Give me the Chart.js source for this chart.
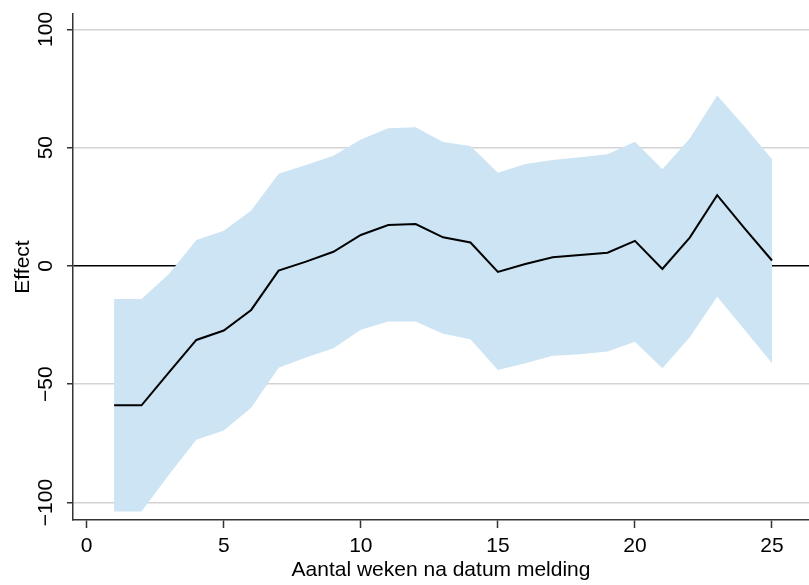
<!DOCTYPE html>
<html>
<head>
<meta charset="utf-8">
<script src="https://cdn.jsdelivr.net/npm/chart.js@4.4.0/dist/chart.umd.min.js"></script>
<style>
  html, body { margin: 0; padding: 0; background: #fff; }
  #wrap { width: 809px; height: 585px; }
</style>
</head>
<body>
<div id="wrap"><canvas id="chart"></canvas></div>
<script>
// weeks after report date
const weeks = [1, 2, 3, 4, 5, 6, 7, 8, 9, 10, 11, 12, 13, 14, 15, 16, 17, 18, 19, 20, 21, 22, 23, 24, 25];
const effect = [-58.9, -58.9, -45, -31.3, -27.3, -18.6, -2, 1.8, 6, 13.1, 17.3, 17.7, 12.1, 9.9, -2.5, 0.8, 3.7, 4.6, 5.6, 10.6, -1.3, 12, 29.9, 15.9, 2.3];
const upper = [-14, -14, -3.4, 11, 14.9, 23.4, 39, 42.7, 46.6, 53.5, 58.2, 58.6, 52.4, 50.7, 39.4, 43.1, 44.8, 45.9, 47.2, 52.5, 40.9, 53.9, 72, 58.9, 45.1];
const lower = [-103.8, -103.8, -88.3, -73.5, -69.6, -60, -43, -38.7, -34.8, -27, -23.5, -23.5, -28.7, -31, -44, -41.1, -38, -37.3, -36.2, -32, -43.2, -30.1, -13, -27, -41.1];
const xTicks = [0, 5, 10, 15, 20, 25];
const yTicks = [-100, -50, 0, 50, 100];

const toPoints = arr => weeks.map((w, i) => ({ x: w, y: arr[i] }));
const font = { family: 'Liberation Sans, Arial, sans-serif', size: 21 };
const bandColor = 'rgb(204, 228, 243)';

new Chart(document.getElementById('chart'), {
    type: 'line',
    data: {
        datasets: [
            {
                label: 'Effect',
                data: toPoints(effect),
                borderColor: '#000',
                borderWidth: 2,
                pointRadius: 0,
                fill: false,
                tension: 0
            },
            {
                label: 'upper',
                data: toPoints(upper),
                borderWidth: 0,
                borderColor: bandColor,
                backgroundColor: bandColor,
                pointRadius: 0,
                fill: '+1',
                tension: 0
            },
            {
                label: 'lower',
                data: toPoints(lower),
                borderWidth: 0,
                borderColor: bandColor,
                pointRadius: 0,
                fill: false,
                tension: 0
            }
        ]
    },
    options: {
        responsive: true,
        maintainAspectRatio: false,
        animation: false,
        layout: { padding: { top: 14, right: 0, left: 0, bottom: 0 } },
        plugins: {
            legend: { display: false },
            tooltip: { enabled: false }
        },
        scales: {
            x: {
                type: 'linear',
                min: -0.5,
                max: 26.35,
                afterBuildTicks: s => { s.ticks = xTicks.map(v => ({ value: v })); },
                afterFit: s => { s.height = 65; },
                ticks: { font: font, color: '#000', padding: 6, maxRotation: 0 },
                grid: { drawOnChartArea: false, tickLength: 8, tickColor: '#333', tickWidth: 1.5 },
                border: { color: '#333', width: 1.5 },
                title: {
                    display: true,
                    text: 'Aantal weken na datum melding',
                    font: font,
                    color: '#000',
                    padding: { top: 0, bottom: 2 }
                }
            },
            y: {
                min: -107.4,
                max: 106.5,
                afterBuildTicks: s => { s.ticks = yTicks.map(v => ({ value: v })); },
                afterFit: s => { s.width = 73; },
                ticks: {
                    font: font,
                    color: '#000',
                    minRotation: 90,
                    maxRotation: 90,
                    crossAlign: 'center',
                    padding: -3,
                    callback: v => String(v).replace('-', '\u2212')
                },
                grid: {
                    color: ctx => (ctx.tick && ctx.tick.value === 0) ? '#000' : '#d3d3d3',
                    lineWidth: 1.5,
                    tickColor: '#333',
                    tickLength: 6,
                    tickWidth: 1.5
                },
                border: { color: '#333', width: 1.5 },
                title: {
                    display: true,
                    text: 'Effect',
                    font: font,
                    color: '#000',
                    padding: { top: 11, bottom: 0 }
                }
            }
        }
    }
});
</script>
</body>
</html>
